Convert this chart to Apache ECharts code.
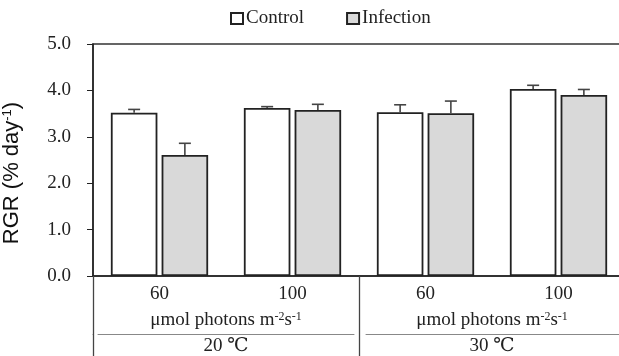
<!DOCTYPE html>
<html>
<head>
<meta charset="utf-8">
<script src="https://cdn.jsdelivr.net/npm/echarts@6/dist/echarts.min.js"></script>
<style>
  html, body { margin: 0; padding: 0; background: #fff; }
  #chart { width: 619px; height: 356px; }
</style>
</head>
<body>
<div id="chart"></div>
<script>
// light levels (µmol photons m-2 s-1) within each temperature
const lightLevels = ['60', '100', '60', '100'];
const temperatures = ['20 ℃', '30 ℃'];

// RGR (% day-1), mean and upper error
const controlRGR = [3.52, 3.62, 3.53, 4.03];
const controlErr = [0.07, 0.03, 0.16, 0.08];
const infectionRGR = [2.61, 3.58, 3.51, 3.90];
const infectionErr = [0.25, 0.12, 0.26, 0.12];

const yTicks = [0, 1, 2, 3, 4, 5];

const SERIF = '"Liberation Serif", "DejaVu Serif", serif';
const SANS = '"Liberation Sans", Arial, sans-serif';
const INK = '#222';
const BAR_W = 0.35;   // fraction of the category band
const BAR_GAP = 0.09; // fraction of bar width

const chart = echarts.init(document.getElementById('chart'));

// error bars sit on the grouped bars: shift = ±(bar + gap) / 2
function errorSeries(name, means, errs, side) {
  return {
    name: name + ' err',
    type: 'custom',
    xAxisIndex: 0,
    yAxisIndex: 0,
    z: 5,
    silent: true,
    data: means.map((m, i) => [i, m, errs[i]]),
    renderItem: (params, api) => {
      const i = api.value(0), m = api.value(1), e = api.value(2);
      const band = api.size([1, 0])[0];
      const shift = side * band * BAR_W * (1 + BAR_GAP) / 2;
      const lo = api.coord([i, m]);
      const hi = api.coord([i, m + e]);
      const x = lo[0] + shift;
      const cap = 6;
      const style = { stroke: '#444', lineWidth: 1.6 };
      return {
        type: 'group',
        children: [
          { type: 'line', shape: { x1: x, y1: lo[1], x2: x, y2: hi[1] }, style },
          { type: 'line', shape: { x1: x - cap, y1: hi[1], x2: x + cap, y2: hi[1] }, style },
        ],
      };
    },
  };
}

const supRich = {
  b: { fontFamily: SERIF, fontSize: 19, color: INK },
  s: { fontFamily: SERIF, fontSize: 12, color: INK, verticalAlign: 'top' },
};

chart.setOption({
  animation: false,
  backgroundColor: '#fff',
  grid: {
    left: 93, top: 44, width: 532, height: 232,
    outerBoundsMode: 'none', containLabel: false,
    show: true, borderColor: '#333', borderWidth: 1.5, backgroundColor: 'transparent',
  },
  legend: {
    left: 225, top: 4,
    itemWidth: 12, itemHeight: 11, itemGap: 42,
    icon: 'rect',
    textStyle: { fontFamily: SERIF, fontSize: 19, color: INK, padding: [0, 0, 0, -2] },
    data: ['Control', 'Infection'],
  },
  xAxis: [
    {
      type: 'category', data: lightLevels, gridIndex: 0, position: 'bottom',
      axisLine: { lineStyle: { color: '#222', width: 1.5 } },
      axisTick: { show: false },
      axisLabel: { fontFamily: SERIF, fontSize: 19, color: INK, margin: 9 },
    },
    {
      // temperature row + the vertical group dividers
      type: 'category', data: temperatures, gridIndex: 0, position: 'bottom',
      axisLine: { show: false },
      axisTick: { show: true, length: 80, lineStyle: { color: '#444', width: 1.3 } },
      axisLabel: { fontFamily: SERIF, fontSize: 19, color: INK, margin: 61 },
    },
    {
      // unit row with its underline
      type: 'category', data: temperatures, gridIndex: 0, position: 'bottom', offset: 58,
      axisLine: { show: true, lineStyle: { color: '#888', width: 1, type: [0, 5, 256, 12, 400, 0] } },
      axisTick: { show: false },
      axisLabel: {
        inside: true, margin: 4,
        formatter: () => '{b|μmol photons m}{s|-2}{b|s}{s|-1}',
        rich: supRich,
      },
    },
  ],
  yAxis: {
    type: 'value', min: yTicks[0], max: yTicks[yTicks.length - 1], interval: 1,
    axisLine: { show: true, lineStyle: { color: '#222', width: 1.5 } },
    axisTick: { show: true, length: 6, lineStyle: { color: '#222' } },
    splitLine: { show: false },
    axisLabel: { fontFamily: SERIF, fontSize: 19, color: INK, margin: 22, formatter: v => v.toFixed(1) },
    name: '{n|RGR (% day}{s|-1}{n|)}',
    nameLocation: 'middle',
    nameGap: 70,
    nameRotate: 90,
    nameTextStyle: {
      padding: [0, 26, 0, 0],
      rich: {
        n: { fontFamily: SANS, fontSize: 22, color: '#111' },
        s: { fontFamily: SANS, fontSize: 13, color: '#111', verticalAlign: 'top' },
      },
    },
  },
  series: [
    {
      name: 'Control', type: 'bar', data: controlRGR,
      barWidth: (BAR_W * 100) + '%', barGap: (BAR_GAP * 100) + '%',
      itemStyle: { color: '#fff', borderColor: '#222', borderWidth: 1.8 },
    },
    {
      name: 'Infection', type: 'bar', data: infectionRGR,
      barWidth: (BAR_W * 100) + '%', barGap: (BAR_GAP * 100) + '%',
      itemStyle: { color: '#d9d9d9', borderColor: '#222', borderWidth: 1.8 },
    },
    errorSeries('Control', controlRGR, controlErr, -1),
    errorSeries('Infection', infectionRGR, infectionErr, 1),
  ],
});
</script>
</body>
</html>
